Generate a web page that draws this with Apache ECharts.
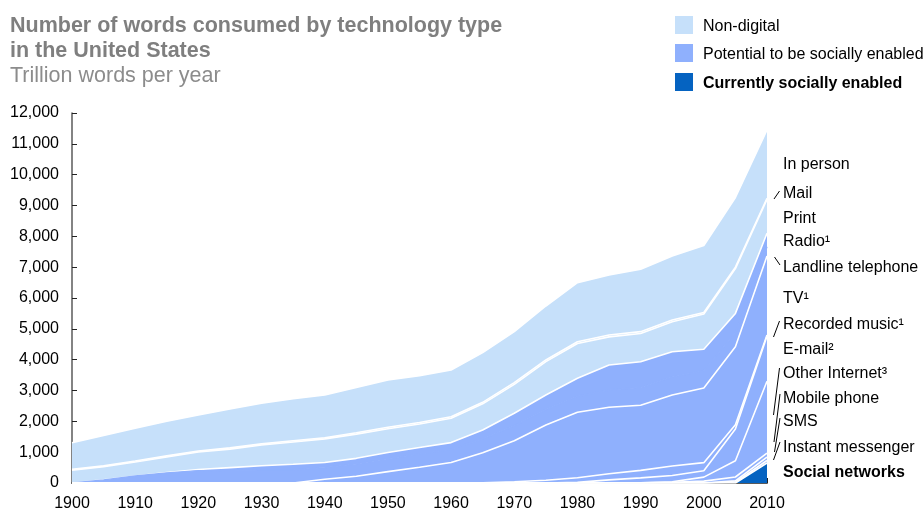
<!DOCTYPE html>
<html>
<head>
<meta charset="utf-8">
<script src="https://cdn.jsdelivr.net/npm/echarts@6/dist/echarts.min.js"></script>
<style>
html,body{margin:0;padding:0;background:#fff;}
#chart{width:924px;height:512px;}
</style>
</head>
<body>
<div id="chart"></div>
<script>
// ---- Data (trillion words per year) ----
const years = [1900,1905,1910,1915,1920,1925,1930,1935,1940,1945,1950,1955,1960,1965,1970,1975,1980,1985,1990,1995,2000,2005,2010];

const socialNetworks   = [0,0,0,0,0,0,0,0,0,0,0,0,0,0,0,0,0,0,0,0,0,0,650];
const instantMessenger = [0,0,0,0,0,0,0,0,0,0,0,0,0,0,0,0,0,0,0,0,0,30,80];
const sms              = [0,0,0,0,0,0,0,0,0,0,0,0,0,0,0,0,0,0,0,0,0,40,110];
const mobilePhone      = [0,0,0,0,0,0,0,0,0,0,0,0,0,0,0,0,0,0,5,20,60,125,130];
const otherInternet    = [0,0,0,0,0,0,0,0,0,0,0,0,0,0,0,0,0,0,0,20,130,528,2330];
const email            = [0,0,0,0,0,0,0,0,0,0,0,0,0,0,0,0,20,100,160,205,210,1027,1460];
const recordedMusic    = [0,0,0,0,0,0,0,0,0,0,0,0,0,10,40,90,150,200,245,305,260,140,40];
const tv               = [0,0,0,0,0,0,0,0,120,220,370,510,665,974,1333,1791,2122,2155,2110,2304,2420,2530,2560];
const landline         = [0,100,227,330,400,410,420,420,380,400,420,430,430,450,480,500,520,560,580,580,560,450,300];
const radio            = [0,0,0,10,40,90,140,190,165,180,200,210,215,285,407,473,583,812,835,825,696,630,440];
const print            = [418,430,456,505,565,600,670,720,765,785,771,765,791,848,939,1081,1128,913,913,973,1144,1455,1095];
const mail             = [25,30,30,35,35,40,40,40,40,45,45,45,50,50,55,55,60,60,60,55,50,45,40];
const inPerson         = [864,980,1060,1120,1165,1260,1314,1360,1384,1470,1535,1520,1514,1610,1654,1751,1914,1947,2023,2076,2170,2260,2215];

const yTicks = [0,1000,2000,3000,4000,5000,6000,7000,8000,9000,10000,11000,12000];

const legendItems = ['Non-digital','Potential to be socially enabled','Currently socially enabled'];
const seriesNames = ['Social networks','Instant messenger','SMS','Mobile phone','Other Internet','E-mail','Recorded music','TV','Landline telephone','Radio','Print','Mail','In person'];
const rightLabels = ['In person','Mail','Print','Radio\u00B9','Landline telephone','TV\u00B9','Recorded music\u00B9','E-mail\u00B2','Other Internet\u00B3','Mobile phone','SMS','Instant messenger','Social networks'];

// ---- Styling ----
const C_LIGHT = '#c6e0fa';
const C_MED = '#8fb0fd';
const C_DARK = '#0563c1';
const FONT = '"Liberation Sans", Arial, Helvetica, sans-serif';

const seriesData = [socialNetworks, instantMessenger, sms, mobilePhone, otherInternet, email, recordedMusic, tv, landline, radio, print, mail, inPerson];
const seriesGroup = ['dark','med','med','med','med','med','med','med','med','med','light','light','light'];
const groupColor = {dark: C_DARK, med: C_MED, light: C_LIGHT};

const series = seriesData.map((d, i) => {
  const hidden = seriesNames[i] === 'Landline telephone';
  return {
    name: seriesNames[i],
    type: 'line',
    stack: 'words',
    data: d,
    symbol: 'none',
    smooth: false,
    z: 30 - i,
    // the landline/radio boundary is not drawn in the original: paint it in the fill colour
    lineStyle: {color: hidden ? C_MED : '#ffffff', width: hidden ? 1.4 : 1.6},
    areaStyle: {color: groupColor[seriesGroup[i]], opacity: 1},
    emphasis: {disabled: true},
    silent: true
  };
});

const chart = echarts.init(document.getElementById('chart'), null, {renderer: 'canvas'});

const graphics = [];
graphics.push({type:'text', left:10, top:15, style:{text:'Number of words consumed by technology type', font:'bold 21.5px '+FONT, fill:'#7f7f7f'}});
graphics.push({type:'text', left:10, top:40, style:{text:'in the United States', font:'bold 21.5px '+FONT, fill:'#7f7f7f'}});
graphics.push({type:'text', left:10, top:65, style:{text:'Trillion words per year', font:'21.5px '+FONT, fill:'#8c8c8c'}});

const legendColors = [C_LIGHT, C_MED, C_DARK];
const legendY = [25, 53, 82];
legendItems.forEach((t, i) => {
  graphics.push({type:'rect', shape:{x:675, y:legendY[i]-9, width:18, height:18}, style:{fill:legendColors[i]}});
  graphics.push({type:'text', x:703, y:legendY[i]+2, style:{text:t, font:(i===2?'bold ':'')+'16px '+FONT, fill:'#000', verticalAlign:'middle'}});
});

// right-hand labels
const labelY = [163, 191.5, 216.5, 240, 265.5, 296.5, 322.5, 347.5, 371.5, 396.5, 420, 445.5, 470.5];
rightLabels.forEach((t, i) => {
  graphics.push({type:'text', x:783, y:labelY[i]+2, style:{text:t, font:(i===12?'bold ':'')+'16px '+FONT, fill:'#000', verticalAlign:'middle'}});
});

// leader lines (annotation)
const leaders = [
  [774,199,779.5,191],
  [774.5,257,780,265],
  [773.5,337,779.5,321],
  [773.5,415,779.5,368],
  [774,442,780,394],
  [774.5,452,780,418],
  [773.5,460,780,442]
];
leaders.forEach(l => graphics.push({type:'line', shape:{x1:l[0], y1:l[1], x2:l[2], y2:l[3]}, style:{stroke:'#000', lineWidth:1}}));

chart.setOption({
  animation: false,
  backgroundColor: '#ffffff',
  grid: {left: 72, right: 157, top: 113, bottom: 28, containLabel: false},
  xAxis: {
    type: 'category',
    data: years.map(String),
    boundaryGap: false,
    axisLine: {lineStyle: {color: '#5a5a5a', width: 2}},
    axisTick: {inside: true, length: 5, interval: 0, lineStyle: {color: '#222', width: 1}},
    axisLabel: {interval: 1, color: '#000', fontSize: 16, fontFamily: FONT, margin: 13},
    splitLine: {show: false}
  },
  yAxis: {
    type: 'value',
    min: yTicks[0],
    max: yTicks[yTicks.length-1],
    interval: 1000,
    axisLine: {show: true, lineStyle: {color: '#5a5a5a', width: 1.5}},
    axisTick: {show: true, inside: true, length: 5, lineStyle: {color: '#222'}},
    axisLabel: {color: '#000', fontSize: 16, fontFamily: FONT, margin: 13, padding: [4,0,0,0],
      formatter: v => v.toLocaleString('en-US')},
    splitLine: {show: false}
  },
  series: series,
  graphic: graphics
});
</script>
</body>
</html>
